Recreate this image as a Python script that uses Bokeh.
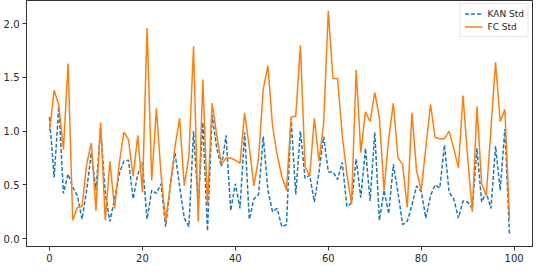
from bokeh.plotting import figure
from bokeh.models import FixedTicker, NumeralTickFormatter, Range1d, Legend, LegendItem
from bokeh.embed import file_html
from bokeh.resources import INLINE

idx = list(range(100))
kan_std = [1.13, 0.57, 1.23, 0.42, 0.60, 0.48, 0.40, 0.18, 0.45, 0.80,
           0.45, 1.03, 0.42, 0.16, 0.37, 0.60, 0.72, 0.73, 0.37, 0.60,
           0.71, 0.18, 0.45, 0.42, 0.51, 0.11, 0.49, 0.80, 0.49, 0.19,
           0.11, 1.00, 0.31, 1.08, 0.07, 1.15, 0.84, 0.67, 0.96, 0.26,
           0.51, 0.28, 0.99, 0.18, 0.37, 0.41, 0.95, 0.45, 0.25, 0.28,
           0.11, 0.13, 1.12, 0.41, 1.00, 0.56, 0.59, 0.34, 0.62, 0.95,
           0.62, 0.62, 0.55, 0.71, 0.30, 0.33, 0.74, 0.38, 0.84, 0.35,
           0.99, 0.17, 0.45, 0.23, 0.69, 0.43, 0.13, 0.16, 0.31, 0.49,
           0.44, 0.19, 0.40, 0.50, 0.47, 0.87, 0.43, 0.37, 0.19, 0.35,
           0.34, 0.28, 0.84, 0.34, 0.43, 0.28, 0.86, 0.45, 1.02, 0.03]
fc_std = [1.00, 1.38, 1.24, 0.83, 1.63, 0.17, 0.29, 0.30, 0.69, 0.89,
          0.26, 1.08, 0.17, 0.72, 0.28, 0.69, 0.99, 0.92, 0.58, 0.96,
          0.43, 1.96, 0.54, 1.21, 0.60, 0.16, 0.50, 0.85, 1.12, 0.49,
          0.77, 1.79, 0.16, 1.48, 0.31, 1.26, 0.96, 0.69, 0.75, 0.75,
          0.73, 0.70, 1.17, 0.85, 0.49, 0.75, 1.39, 1.61, 1.05, 0.78,
          0.58, 0.45, 1.13, 1.14, 1.80, 0.67, 0.58, 1.12, 0.72, 1.07,
          2.12, 1.49, 1.49, 0.96, 0.60, 0.32, 1.57, 0.80, 1.18, 1.09,
          1.36, 1.12, 0.45, 0.93, 1.26, 0.75, 0.69, 0.29, 1.17, 0.63,
          0.45, 0.85, 1.25, 0.94, 0.93, 0.93, 1.00, 0.84, 0.66, 1.33,
          0.75, 0.25, 1.23, 0.51, 0.40, 1.02, 1.64, 1.09, 1.20, 0.19]
x_ticks = [0, 20, 40, 60, 80, 100]
y_ticks = [0.0, 0.5, 1.0, 1.5, 2.0]
series_labels = ["KAN Std", "FC Std"]

p = figure(width=534, height=264, output_backend="svg", toolbar_location=None,
           x_range=Range1d(-4.95, 103.95), y_range=Range1d(-0.074, 2.216),
           min_border_left=19, min_border_right=2, min_border_top=0, min_border_bottom=18)
p.background_fill_color = "white"
p.border_fill_color = "white"
p.outline_line_color = "#333333"
p.outline_line_width = 1
p.xgrid.visible = False
p.ygrid.visible = False

for ax in (p.xaxis[0], p.yaxis[0]):
    ax.axis_line_color = "#333333"
    ax.major_tick_line_color = "#333333"
    ax.minor_tick_line_color = None
    ax.major_tick_out = 4
    ax.major_tick_in = 0
    ax.major_label_text_font = "DejaVu Sans"
    ax.major_label_text_font_size = "10px"
    ax.major_label_text_color = "#262626"
    ax.major_label_standoff = 3
p.xaxis.ticker = FixedTicker(ticks=x_ticks)
p.yaxis.ticker = FixedTicker(ticks=y_ticks)
p.yaxis.formatter = NumeralTickFormatter(format="0.0")

r1 = p.line(idx, kan_std, line_color="#1f77b4", line_width=1.5, line_dash="4 2")
r2 = p.line(idx, fc_std, line_color="#ff7f0e", line_width=1.5)

legend = Legend(items=[LegendItem(label=series_labels[0], renderers=[r1]),
                       LegendItem(label=series_labels[1], renderers=[r2])],
                location="top_right")
legend.label_text_font = "DejaVu Sans"
legend.label_text_font_size = "9px"
legend.label_text_color = "#262626"
legend.border_line_color = "#cccccc"
legend.border_line_width = 1
legend.background_fill_alpha = 0.8
legend.glyph_width = 18
legend.glyph_height = 11
legend.label_height = 11
legend.spacing = 2
legend.padding = 4
legend.margin = 3
legend.label_standoff = 5
p.add_layout(legend)

open("out.html", "w").write(file_html(p, INLINE))
